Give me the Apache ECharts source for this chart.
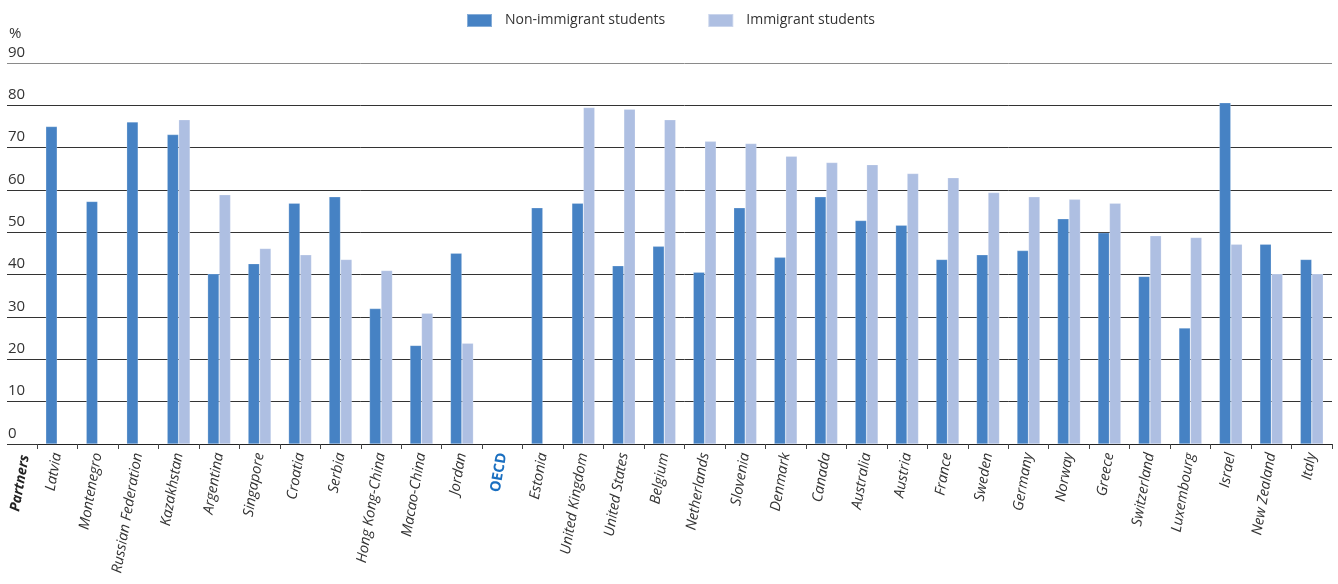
<!DOCTYPE html>
<html>
<head>
<meta charset="utf-8">
<script src="https://cdn.jsdelivr.net/npm/echarts@6/dist/echarts.min.js"></script>
<style>
  html, body { margin: 0; padding: 0; background: #fff; }
  #chart { width: 1338px; height: 584px; }
</style>
</head>
<body>
<div id="chart"></div>
<script>
// countries, partners first then OECD
var countries = ['Latvia', 'Montenegro', 'Russian Federation', 'Kazakhstan', 'Argentina', 'Singapore',
  'Croatia', 'Serbia', 'Hong Kong-China', 'Macao-China', 'Jordan', 'OECD', 'Estonia',
  'United Kingdom', 'United States', 'Belgium', 'Netherlands', 'Slovenia', 'Denmark', 'Canada',
  'Australia', 'Austria', 'France', 'Sweden', 'Germany', 'Norway', 'Greece', 'Switzerland',
  'Luxembourg', 'Israel', 'New Zealand', 'Italy'];
var nonImmigrant = [75.0, 57.3, 76.1, 73.1, 40.2, 42.6, 56.9, 58.4, 32.0, 23.3, 45.1, null, 55.8,
  56.9, 42.1, 46.7, 40.6, 55.8, 44.1, 58.4, 52.8, 51.7, 43.6, 44.7, 45.7, 53.2, 49.9, 39.6,
  27.4, 80.6, 47.2, 43.6];
var immigrant = [null, null, null, 76.6, 58.9, 46.2, 44.7, 43.6, 41.0, 30.9, 23.8, null, null,
  79.5, 79.1, 76.6, 71.5, 71.0, 68.0, 66.5, 66.0, 63.9, 62.9, 59.4, 58.4, 57.8, 56.9, 49.2,
  48.8, 47.2, 40.2, 40.2];
var yMin = 0, yMax = 90, yStep = 10;

var font = '"Open Sans", Lato, sans-serif';
var darkBlue = '#4682c4';
var lightBlue = '#aebfe2';

var chart = echarts.init(document.getElementById('chart'));

// top gridline is lighter grey
var lineColors = [];
for (var i = 0; i <= (yMax - yMin) / yStep; i++) {
  lineColors.push(i === (yMax - yMin) / yStep ? '#8a8a8a' : '#333');
}

var option = {
  animation: false,
  textStyle: { fontFamily: font, color: '#333' },
  legend: {
    left: 461,
    top: 8,
    itemWidth: 25,
    itemHeight: 13,
    itemGap: 42,
    icon: 'rect',
    textStyle: { fontSize: 14, color: '#333', fontFamily: font, padding: [0, 0, 0, 8] },
    data: ['Non-immigrant students', 'Immigrant students']
  },
  grid: [
    { left: 37, right: 6, top: 63, bottom: 140 },
    { left: 7, width: 30, top: 63, bottom: 140 }
  ],
  xAxis: [{
    type: 'category',
    gridIndex: 0,
    data: countries,
    axisLine: { lineStyle: { color: '#222', width: 1 } },
    axisTick: { show: true, length: 5, lineStyle: { color: '#444' } },
    axisLabel: {
      interval: 0,
      rotate: 80,
      margin: 9,
      fontSize: 14.5,
      fontStyle: 'italic',
      color: '#333',
      fontFamily: font,
      formatter: function (v) {
        return v === 'OECD' ? '{oecd|OECD}' : v;
      },
      rich: {
        oecd: { color: '#1a6fc0', fontWeight: 'bold', fontStyle: 'normal', fontSize: 14.5, fontFamily: font }
      }
    }
  }, {
    type: 'value',
    gridIndex: 1,
    show: false
  }],
  yAxis: [{
    type: 'value',
    gridIndex: 0,
    min: yMin,
    max: yMax,
    interval: yStep,
    axisLine: { show: false },
    axisTick: { show: false },
    axisLabel: { show: false },
    splitLine: { lineStyle: { color: lineColors, width: 1 } }
  }, {
    type: 'value',
    gridIndex: 1,
    min: yMin,
    max: yMax,
    interval: yStep,
    name: '%',
    nameLocation: 'end',
    nameGap: 22,
    nameTextStyle: { align: 'left', fontSize: 15, color: '#333', fontFamily: font, padding: [0, 0, 0, 2] },
    axisLine: { show: false },
    axisTick: { show: false },
    axisLabel: {
      inside: true,
      margin: 1,
      verticalAlign: 'bottom',
      padding: [0, 0, 3, 0],
      fontSize: 15,
      color: '#333',
      fontFamily: font
    },
    splitLine: { lineStyle: { color: lineColors, width: 1 } }
  }],
  series: [{
    name: 'Non-immigrant students',
    type: 'bar',
    xAxisIndex: 0,
    yAxisIndex: 0,
    data: nonImmigrant,
    barWidth: 11.5,
    barGap: '0%',
    itemStyle: { color: darkBlue, borderColor: 'rgba(255,255,255,0.35)', borderWidth: 0.6 }
  }, {
    name: 'Immigrant students',
    type: 'bar',
    xAxisIndex: 0,
    yAxisIndex: 0,
    data: immigrant,
    barWidth: 11.5,
    barGap: '0%',
    itemStyle: { color: lightBlue, borderColor: 'rgba(255,255,255,0.35)', borderWidth: 0.6 }
  }],
  graphic: [{
    type: 'text',
    x: 25,
    y: 455,
    rotation: Math.PI * 80 / 180,
    style: {
      text: 'Partners',
      font: 'italic bold 14px ' + font,
      fill: '#222',
      textAlign: 'right',
      textVerticalAlign: 'middle'
    }
  }]
};

chart.setOption(option);
</script>
</body>
</html>
